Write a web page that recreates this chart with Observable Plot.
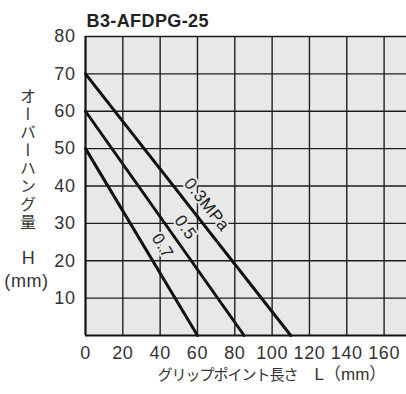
<!DOCTYPE html>
<html>
<head>
<meta charset="utf-8">
<script src="https://cdn.jsdelivr.net/npm/d3@7"></script>
<script src="https://cdn.jsdelivr.net/npm/@observablehq/plot@0.6"></script>
<style>
  html, body { margin: 0; padding: 0; background: #fff; }
  svg { display: block; }
</style>
</head>
<body>
<div id="chart"></div>
<script>
// ---- data ----
const title = "B3-AFDPG-25";
const pressureLabels = ["0.3MPa", "0.5", "0.7"];
const overhangAtZero = [70, 60, 50];     // H (mm) at L = 0
const gripAtZero = [110, 85, 60];        // L (mm) at H = 0
const labelL = [65, 53.6, 41.3];         // annotation anchor (data units)
const labelH = [35, 28.9, 24];
const xTicks = [0, 20, 40, 60, 80, 100, 120, 140, 160];
const yTicks = [10, 20, 30, 40, 50, 60, 70, 80];
const xLabelJa = "グリップポイント長さ";
const xLabelUnit = "　L（mm）";
const xLabel = xLabelJa + xLabelUnit;
const yLabel = "オーバーハング量";
const yUnitH = "H";
const yUnitMM = "(mm)";

const W = 406, H = 394;
const mL = 85, mR = 0, mT = 36, mB = 59;
const xMax = 172;
const font = "'Liberation Sans', Arial, 'Noto Sans CJK JP', sans-serif";

const lineData = pressureLabels.flatMap((p, i) => [
  {p, L: 0, H: overhangAtZero[i]},
  {p, L: gripAtZero[i], H: 0}
]);
const kx = (W - mL - mR) / xMax, ky = (H - mT - mB) / 80;
const labelData = pressureLabels.map((p, i) => ({
  p, L: labelL[i], H: labelH[i],
  angle: Math.atan((overhangAtZero[i] * ky) / (gripAtZero[i] * kx)) * 180 / Math.PI
}));

const chart = Plot.plot({
  width: W, height: H,
  marginLeft: mL, marginRight: mR, marginTop: mT, marginBottom: mB,
  style: {fontFamily: font, background: "#fff", color: "#333"},
  x: {domain: [0, xMax]},
  y: {domain: [0, 80]},
  marks: [
    Plot.frame({fill: "#e8e8e8", stroke: "none"}),
    Plot.gridX(xTicks, {stroke: "#1e1e1e", strokeOpacity: 1, strokeWidth: 1.4}),
    Plot.gridY(yTicks, {stroke: "#1e1e1e", strokeOpacity: 1, strokeWidth: 1.4}),
    Plot.ruleX([0], {stroke: "#111", strokeWidth: 2}),
    Plot.ruleY([0], {stroke: "#111", strokeWidth: 2}),
    Plot.line(lineData, {x: "L", y: "H", z: "p", stroke: "#111", strokeWidth: 3}),
    Plot.text(labelData, {
      x: "L", y: "H", text: "p", rotate: "angle",
      fontSize: 17, fill: "#222", stroke: "#e8e8e8", strokeWidth: 4,
      fontFamily: font
    }),
    Plot.axisX(xTicks, {tickSize: 0, tickPadding: 11, fontSize: 18, fill: "#333", label: null}),
    Plot.axisY(yTicks, {tickSize: 0, tickPadding: 10, fontSize: 18, fill: "#333", label: null}),
    Plot.text([title], {frameAnchor: "top-left", textAnchor: "start", lineAnchor: "bottom",
      dx: 1, dy: -10, fontSize: 18, fontWeight: "bold", fill: "#222"}),
    Plot.text([xLabel], {frameAnchor: "bottom-left", textAnchor: "start", dx: 72, dy: 44, fontSize: 15, fill: "#333"}),
    Plot.text([yLabel], {frameAnchor: "left", textAnchor: "middle", dx: -59, dy: -31, fontSize: 16, fill: "#333"}),
    Plot.text([yUnitH], {frameAnchor: "left", textAnchor: "middle", dx: -57, dy: 72, fontSize: 18, fill: "#333"}),
    Plot.text([yUnitMM], {frameAnchor: "left", textAnchor: "middle", dx: -59, dy: 95, fontSize: 18, fill: "#333"})
  ]
});

const svg = d3.select(chart);
svg.selectAll("text").style("letter-spacing", "0.6px");
svg.selectAll("text").filter(function () { return this.textContent === title; })
  .style("letter-spacing", "0.4px");
const xl = svg.selectAll("text").filter(function () { return this.textContent === xLabel; });
xl.style("letter-spacing", null).text(null);
xl.append("tspan").text(xLabelJa).style("letter-spacing", "-1px").attr("font-size", 15);
xl.append("tspan").text(xLabelUnit).style("letter-spacing", "0px").attr("font-size", 17);
const yl = svg.selectAll("text").filter(function () { return this.textContent === yLabel; });
yl.attr("writing-mode", "vertical-rl")
  .attr("text-anchor", "middle")
  .style("text-anchor", "middle")
  .style("text-orientation", "upright")
  .style("letter-spacing", "2px")
  .attr("dy", null);
yl.selectAll("tspan").attr("dy", null);

document.getElementById("chart").appendChild(chart);
</script>
</body>
</html>
